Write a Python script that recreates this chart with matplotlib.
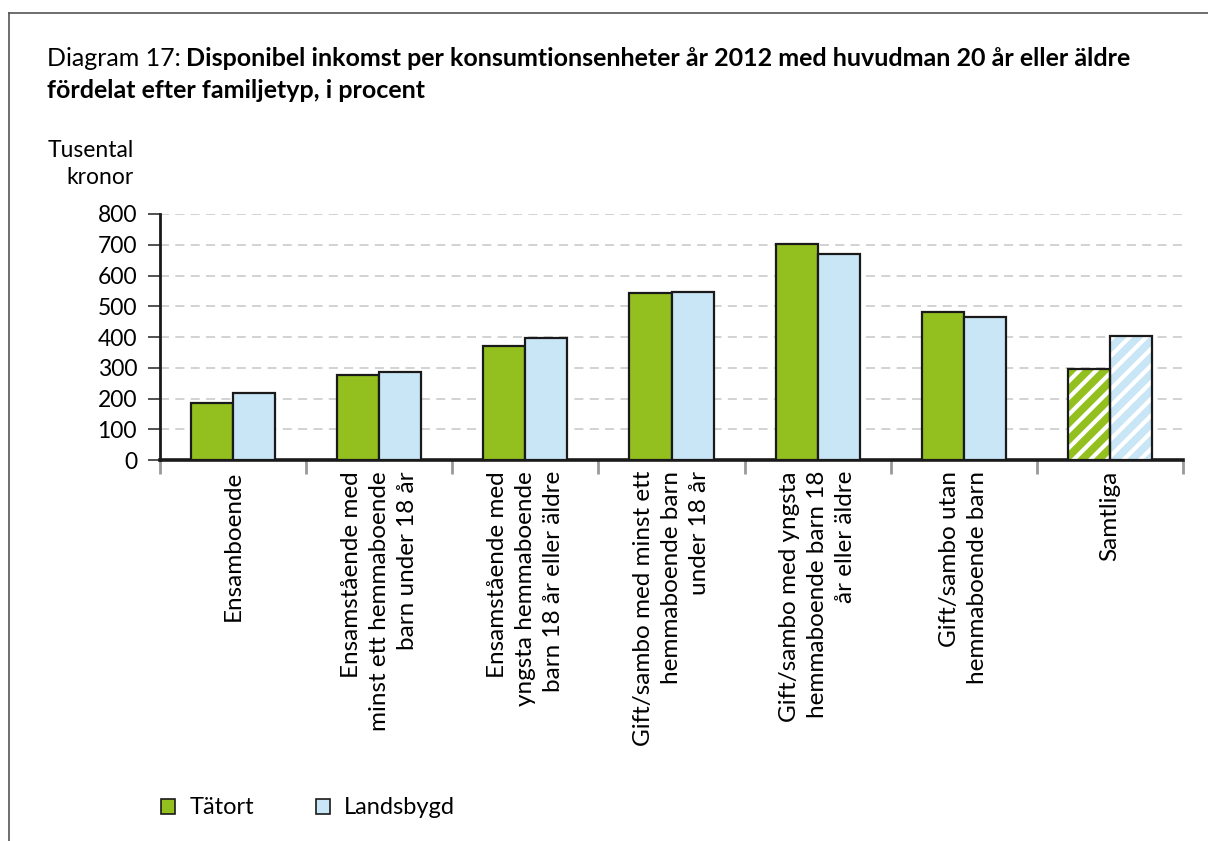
import matplotlib
matplotlib.use("Agg")
import matplotlib.pyplot as plt
import numpy as np
from matplotlib.lines import Line2D
from matplotlib.patches import Patch

plt.rcParams['font.family'] = ['Lato', 'DejaVu Sans']
plt.rcParams['hatch.linewidth'] = 3.0

categories = [
    "Ensamboende",
    "Ensamstående med\nminst ett hemmaboende\nbarn under 18 år",
    "Ensamstående med\nyngsta hemmaboende\nbarn 18 år eller äldre",
    "Gift/sambo med minst ett\nhemmaboende barn\nunder 18 år",
    "Gift/sambo med yngsta\nhemmaboende barn 18\når eller äldre",
    "Gift/sambo utan\nhemmaboende barn",
    "Samtliga",
]
tatort = [184, 276, 371, 544, 703, 481, 296]
landsbygd = [219, 287, 396, 546, 670, 465, 404]
series_names = ["Tätort", "Landsbygd"]

green = "#93c01f"
blue = "#c9e6f7"

fig = plt.figure(figsize=(12.08, 8.41), dpi=100)
ax = fig.add_axes([160 / 1208, 1 - 460 / 841, 1023 / 1208, 246 / 841])

x = np.arange(len(categories))
w = 0.288
for i in x:
    hatched = categories[i] == "Samtliga"
    for off, val, col in [(-w / 2, tatort[i], green), (w / 2, landsbygd[i], blue)]:
        if hatched:
            ax.bar(i + off, val, w, color=col, edgecolor="white", hatch="//", linewidth=0, zorder=3)
            ax.bar(i + off, val, w, facecolor="none", edgecolor="#1a1a1a", linewidth=1.6, zorder=4)
        else:
            ax.bar(i + off, val, w, color=col, edgecolor="#1a1a1a", linewidth=1.6, zorder=3)

ax.set_xlim(-0.5, len(categories) - 0.5)
ax.set_ylim(0, 800)
ax.set_yticks(np.arange(0, 801, 100))
ax.yaxis.grid(True, color="#cfcfcf", linestyle=(0, (5, 3.5)), linewidth=1.3, zorder=0)
ax.tick_params(axis="y", labelsize=16.5, length=9, width=1.2, color="#333333", pad=7.5)

ax.set_xticks(np.arange(-0.5, len(categories), 1.0))
ax.set_xticklabels([])
ax.tick_params(axis="x", which="major", length=10, width=2, color="#999999", direction="out")
ax.set_xticks(x, minor=True)
ax.set_xticklabels(categories, minor=True, rotation=90, fontsize=17.5, ha="center", va="top",
                   multialignment="right", linespacing=1.4)
ax.tick_params(axis="x", which="minor", length=0, pad=8)

for s in ["top", "right"]:
    ax.spines[s].set_visible(False)
ax.spines["left"].set_linewidth(2)
ax.spines["bottom"].set_linewidth(2.6)
ax.spines["left"].set_color("#1a1a1a")
ax.spines["bottom"].set_color("#1a1a1a")

t1 = fig.text(47 / 1208, 1 - 58 / 841, "Diagram 17:", fontsize=18, va="center", ha="left")
ax.annotate("Disponibel inkomst per konsumtionsenheter år 2012 med huvudman 20 år eller äldre",
            xy=(1, 0.5), xycoords=t1, xytext=(4, 0), textcoords="offset points",
            fontsize=18, fontweight="bold", va="center", ha="left", annotation_clip=False)
fig.text(47 / 1208, 1 - 91 / 841, "fördelat efter familjetyp, i procent",
         fontsize=18, fontweight="bold", va="center", ha="left")

fig.text(134 / 1208, 1 - 164 / 841, "Tusental\nkronor", fontsize=16.5, ha="right", va="center",
         multialignment="right", linespacing=1.35)

handles = [Patch(facecolor=green, edgecolor="#1a1a1a", linewidth=1.2),
           Patch(facecolor=blue, edgecolor="#1a1a1a", linewidth=1.2)]
fig.legend(handles, series_names, loc="center left", bbox_to_anchor=(140 / 1208, 1 - 808 / 841),
           ncol=2, frameon=False, fontsize=17, handlelength=0.6, handleheight=0.6,
           columnspacing=2.6, handletextpad=0.6)

# frame lines at top and left
fig.add_artist(Line2D([9 / 1208, 9 / 1208], [0, 1 - 13 / 841], transform=fig.transFigure,
                      color="#555555", linewidth=1.2))
fig.add_artist(Line2D([9 / 1208, 1], [1 - 13 / 841, 1 - 13 / 841], transform=fig.transFigure,
                      color="#555555", linewidth=1.2))

fig.savefig("out.png", dpi=100)
